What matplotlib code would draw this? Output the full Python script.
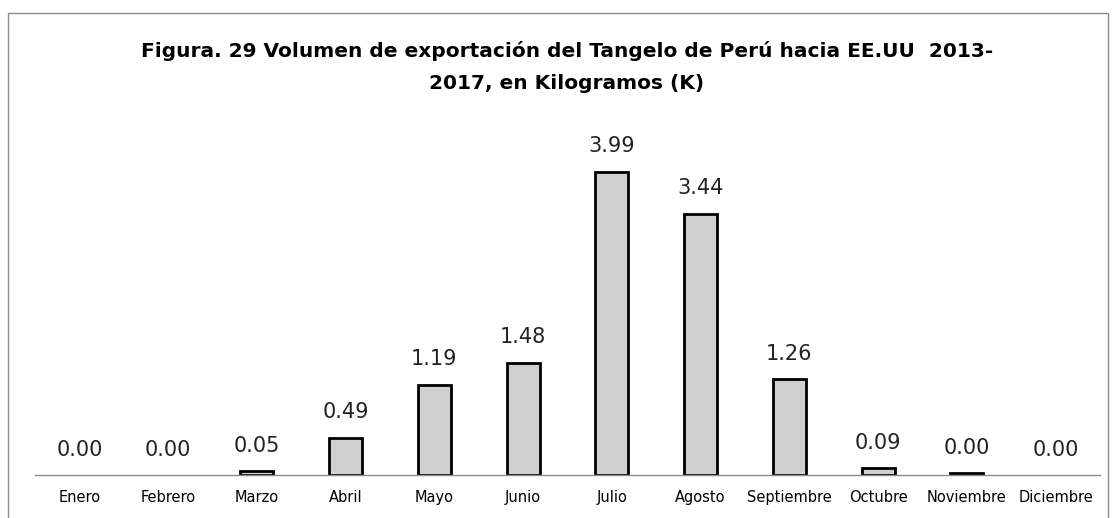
import matplotlib.pyplot as plt
from matplotlib.patches import Rectangle

meses = ['Enero', 'Febrero', 'Marzo', 'Abril', 'Mayo', 'Junio', 'Julio',
         'Agosto', 'Septiembre', 'Octubre', 'Noviembre', 'Diciembre']
volumen = [0.0, 0.0, 0.05, 0.49, 1.19, 1.48, 3.99, 3.44, 1.26, 0.09, 0.02, 0.0]
etiquetas = ['0.00', '0.00', '0.05', '0.49', '1.19', '1.48', '3.99', '3.44',
             '1.26', '0.09', '0.00', '0.00']
titulo = 'Figura. 29 Volumen de exportación del Tangelo de Perú hacia EE.UU  2013-\n2017, en Kilogramos (K)'

plt.rcParams['font.family'] = ['DejaVu Sans']

fig = plt.figure(figsize=(11.16, 5.18), dpi=100)
ax = fig.add_axes([35 / 1116, 43 / 518, 1065 / 1116, 342 / 518])

x = range(len(meses))
bordes = [2 if v > 0 else 0 for v in volumen]
ax.bar(x, volumen, width=0.37, color='#d0d0d0', edgecolor='black', linewidth=bordes)
for i, v in enumerate(volumen):
    ax.annotate(etiquetas[i], (i, v), xytext=(0, 11), textcoords='offset points',
                ha='center', va='bottom', fontsize=15, color='#222222')

ax.set_xlim(-0.5, len(meses) - 0.5)
ax.set_ylim(0, 4.5)
ax.set_xticks(list(x))
ax.set_xticklabels(meses, fontsize=10.5)
ax.tick_params(axis='x', length=0, pad=11)
ax.set_yticks([])
for s in ['top', 'right', 'left']:
    ax.spines[s].set_visible(False)
ax.spines['bottom'].set_color('#8c8c8c')
ax.spines['bottom'].set_linewidth(1)

fig.text(0.508, 1 - 67 / 518, titulo, ha='center', va='center', fontsize=14.5,
         fontweight='bold', linespacing=1.85)

fig.patches.append(Rectangle((8 / 1116, -0.05), 1100 / 1116, 1.05 - 13 / 518,
                             transform=fig.transFigure, fill=False,
                             edgecolor='#8c8c8c', linewidth=1))

fig.savefig('out.png', dpi=100)
